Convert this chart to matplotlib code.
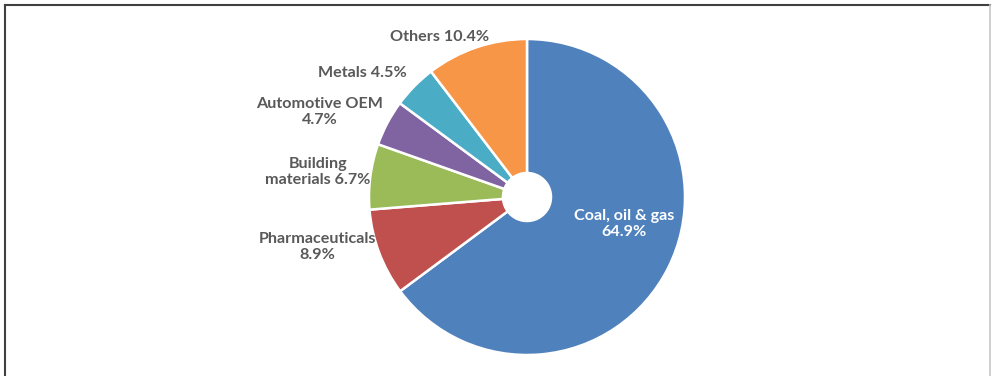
import matplotlib
matplotlib.use("Agg")
import matplotlib.pyplot as plt
from matplotlib.lines import Line2D

categories = ["Coal, oil & gas", "Pharmaceuticals", "Building materials",
              "Automotive OEM", "Metals", "Others"]
values = [64.9, 8.9, 6.7, 4.7, 4.5, 10.4]
colors = ["#4F81BD", "#C0504D", "#9BBB59", "#8064A2", "#4BACC6", "#F79646"]
label_texts = ["Coal, oil & gas\n64.9%", "Pharmaceuticals\n8.9%",
               "Building\nmaterials 6.7%", "Automotive OEM\n4.7%",
               "Metals 4.5%", "Others 10.4%"]

W, H = 992, 376
fig = plt.figure(figsize=(W / 100, H / 100), dpi=100)
ax = fig.add_axes([0, 0, 1, 1])

cx, cy, R, r_hole = 527, H - 197, 158, 24
ax.pie(values, colors=colors, startangle=90, counterclock=False,
       center=(cx, cy), radius=R, frame=True,
       wedgeprops=dict(width=R - r_hole, edgecolor="white", linewidth=1.8))
ax.set_xlim(0, W)
ax.set_ylim(0, H)
ax.set_aspect("equal")
ax.axis("off")

# label positions (pixel coordinates, top-origin)
label_pos = [(624, 224), (317, 247), (318, 172), (320, 112), (362, 73), (440, 37)]
label_colors = ["white", "#595959", "#595959", "#595959", "#595959", "#595959"]
for txt, (x, y), c in zip(label_texts, label_pos, label_colors):
    ax.text(x, H - y, txt, ha="center", va="center", color=c,
            fontsize=11.6, fontweight="bold", family="Lato", linespacing=1.22)

# frame
fig.add_artist(Line2D([5 / W, 990 / W], [1 - 5 / H, 1 - 5 / H],
                      transform=fig.transFigure, color="#404040", lw=1.5))
fig.add_artist(Line2D([5 / W, 5 / W], [0, 1 - 5 / H],
                      transform=fig.transFigure, color="#404040", lw=1.5))
fig.add_artist(Line2D([990 / W, 990 / W], [0, 1 - 5 / H],
                      transform=fig.transFigure, color="#c8c8c8", lw=1.2))

fig.savefig("out.png", dpi=100)
